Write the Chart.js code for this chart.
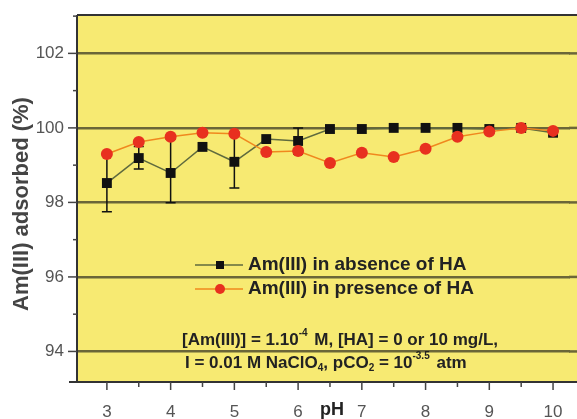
<!DOCTYPE html>
<html><head><meta charset="utf-8">
<script src="https://cdn.jsdelivr.net/npm/chart.js@4/dist/chart.umd.min.js"></script>
<style>html,body{margin:0;padding:0;background:#fff;overflow:hidden}</style>
</head><body>
<canvas id="c" width="577" height="419"></canvas>
<script>
const phValues   = [3, 3.5, 4, 4.5, 5, 5.5, 6, 6.5, 7, 7.5, 8, 8.5, 9, 9.5, 10];
const absenceHA  = [98.52, 99.19, 98.79, 99.49, 99.09, 99.70, 99.65, 99.97, 99.97, 100.0, 100.0, 100.0, 99.97, 100.0, 99.87];
const presenceHA = [99.30, 99.62, 99.76, 99.87, 99.84, 99.35, 99.38, 99.06, 99.33, 99.22, 99.44, 99.76, 99.90, 100.0, 99.92];
const errLow     = [97.75, 98.90, 97.99, null, 98.39, null, 99.30, null, null, null, null, null, null, null, null];
const errHigh    = [99.30, 99.50, 99.70, null, 99.87, null, 100.0, null, null, null, null, null, null, null, null];
const yTickValues = [94, 96, 98, 100, 102];
const xTickValues = [3, 4, 5, 6, 7, 8, 9, 10];
const seriesNames = ['Am(III) in absence of HA', 'Am(III) in presence of HA'];

const FONT = '"Liberation Sans", Arial, sans-serif';
const YELLOW = '#f7ea72';
const GRID = '#6b6638';
const BLACK_LINE = '#5f6a3e';
const RED_LINE = '#f0881e';
const RED = '#e8301f';

function drawRuns(ctx, x, y, runs) {
  for (const r of runs) {
    ctx.font = r.sup || r.sub ? 'bold 10px ' + FONT : 'bold 17px ' + FONT;
    const dy = r.sup ? -7 : (r.sub ? 5 : 0);
    ctx.fillText(r.t, x, y + dy);
    x += ctx.measureText(r.t).width + (r.sup ? 2 : 0);
  }
}
function noPad(s) { s.paddingTop = 0; s.paddingBottom = 0; s.paddingLeft = 0; s.paddingRight = 0; }

const deco = {
  id: 'deco',
  beforeDraw(chart) {
    const {ctx, chartArea: a} = chart;
    ctx.save();
    ctx.fillStyle = '#fff';
    ctx.fillRect(0, 0, chart.width, chart.height);
    ctx.fillStyle = YELLOW;
    ctx.fillRect(a.left, a.top, chart.width - a.left, a.bottom - a.top);
    ctx.restore();
  },
  beforeDatasetsDraw(chart) {
    const {ctx, chartArea: a} = chart;
    const xs = chart.scales.x, ys = chart.scales.y;
    ctx.save();
    // extend grid lines to the right edge of the canvas
    ctx.strokeStyle = GRID;
    ctx.lineWidth = 2.5;
    yTickValues.forEach(v => {
      const y = ys.getPixelForValue(v);
      ctx.beginPath(); ctx.moveTo(a.right - 1, y); ctx.lineTo(chart.width, y); ctx.stroke();
    });
    ctx.strokeStyle = '#111';
    ctx.lineWidth = 1.5;
    phValues.forEach((p, i) => {
      if (errLow[i] == null) return;
      const x = xs.getPixelForValue(p);
      const y1 = ys.getPixelForValue(errLow[i]);
      const y2 = ys.getPixelForValue(errHigh[i]);
      ctx.beginPath();
      ctx.moveTo(x, y1); ctx.lineTo(x, y2);
      ctx.moveTo(x - 5, y1); ctx.lineTo(x + 5, y1);
      ctx.moveTo(x - 5, y2); ctx.lineTo(x + 5, y2);
      ctx.stroke();
    });
    ctx.restore();
  },
  afterDraw(chart) {
    const {ctx, chartArea: a} = chart;
    const xs = chart.scales.x, ys = chart.scales.y;
    const right = chart.width;
    ctx.save();
    // frame
    ctx.strokeStyle = '#333';
    ctx.lineWidth = 2;
    ctx.beginPath();
    ctx.moveTo(a.left, a.top); ctx.lineTo(right, a.top);
    ctx.moveTo(a.left, a.top); ctx.lineTo(a.left, a.bottom);
    ctx.moveTo(a.left - 8, a.bottom); ctx.lineTo(right, a.bottom);
    ctx.stroke();
    // y tick marks
    ctx.lineWidth = 1.5;
    ctx.strokeStyle = '#444';
    for (let v = 93; v <= 103; v++) {
      const y = ys.getPixelForValue(v);
      if (y < a.top || y > a.bottom) continue;
      const len = v % 2 === 0 ? 9 : 4;
      ctx.beginPath(); ctx.moveTo(a.left - len, y); ctx.lineTo(a.left, y); ctx.stroke();
    }
    // x tick marks
    for (let v = 3; v <= 10.01; v += 0.5) {
      const x = xs.getPixelForValue(v);
      const len = Number.isInteger(v) ? 8 : 5;
      ctx.beginPath(); ctx.moveTo(x, a.bottom); ctx.lineTo(x, a.bottom + len); ctx.stroke();
    }
    // axis titles
    ctx.fillStyle = '#222';
    ctx.font = 'bold 18px ' + FONT;
    ctx.textAlign = 'center';
    ctx.textBaseline = 'middle';
    ctx.fillText('pH', xs.getPixelForValue(6.5) + 2, 410);
    ctx.save();
    ctx.translate(22, 204);
    ctx.rotate(-Math.PI / 2);
    ctx.fillStyle = '#444';
    ctx.font = 'bold 22px ' + FONT;
    ctx.fillText('Am(III) adsorbed (%)', 0, 0);
    ctx.restore();
    // legend
    const legendItems = [
      {y: 265, line: BLACK_LINE, fill: '#111', shape: 'rect'},
      {y: 289, line: RED_LINE, fill: RED, shape: 'circle'}
    ];
    legendItems.forEach((it, i) => {
      ctx.strokeStyle = it.line;
      ctx.lineWidth = 1.5;
      ctx.beginPath(); ctx.moveTo(195, it.y); ctx.lineTo(243, it.y); ctx.stroke();
      ctx.fillStyle = it.fill;
      if (it.shape === 'rect') ctx.fillRect(216, it.y - 4, 8, 8);
      else { ctx.beginPath(); ctx.arc(220, it.y, 5, 0, Math.PI * 2); ctx.fill(); }
      ctx.fillStyle = '#222';
      ctx.font = 'bold 19px ' + FONT;
      ctx.textAlign = 'left';
      ctx.textBaseline = 'middle';
      ctx.fillText(seriesNames[i], 248, it.y);
    });
    // annotation
    ctx.fillStyle = '#222';
    ctx.textAlign = 'left';
    ctx.textBaseline = 'middle';
    drawRuns(ctx, 182, 340, [{t: '[Am(III)] = 1.10'}, {t: '-4', sup: true}, {t: ' M, [HA] = 0 or 10 mg/L,'}]);
    drawRuns(ctx, 185, 363, [{t: 'I = 0.01 M NaClO'}, {t: '4', sub: true}, {t: ', pCO'}, {t: '2', sub: true}, {t: ' = 10'}, {t: '-3.5', sup: true}, {t: ' atm'}]);
    ctx.restore();
  }
};

new Chart(document.getElementById('c'), {
  type: 'line',
  data: {
    datasets: [
      {
        label: seriesNames[0],
        data: phValues.map((p, i) => ({x: p, y: absenceHA[i]})),
        borderColor: BLACK_LINE, borderWidth: 1.5,
        pointStyle: 'rect', pointRadius: 7, pointBackgroundColor: '#111', pointBorderColor: '#111', pointBorderWidth: 0,
        order: 1
      },
      {
        label: seriesNames[1],
        data: phValues.map((p, i) => ({x: p, y: presenceHA[i]})),
        borderColor: RED_LINE, borderWidth: 1.5,
        pointStyle: 'circle', pointRadius: 6, pointBackgroundColor: RED, pointBorderColor: RED, pointBorderWidth: 0,
        order: 0
      }
    ]
  },
  options: {
    responsive: false, animation: false, devicePixelRatio: 1,
    layout: {padding: {top: 15, right: 0, left: 0, bottom: 0}},
    plugins: {legend: {display: false}, tooltip: {enabled: false}},
    scales: {
      x: {
        type: 'linear', min: 2.531, max: 10.266,
        afterBuildTicks: s => { s.ticks = xTickValues.map(v => ({value: v})); },
        afterFit: s => { s.height = 37; noPad(s); },
        grid: {display: false, drawTicks: false},
        border: {display: false},
        ticks: {padding: 20, color: '#555', font: {family: FONT, size: 17}, maxRotation: 0, autoSkip: false}
      },
      y: {
        type: 'linear', min: 93.18, max: 103.03,
        afterBuildTicks: s => { s.ticks = yTickValues.map(v => ({value: v})); },
        afterFit: s => { s.width = 77; noPad(s); },
        grid: {drawTicks: false, color: GRID, lineWidth: 2.5},
        border: {display: false},
        ticks: {padding: 13, color: '#555', font: {family: FONT, size: 17}, autoSkip: false}
      }
    }
  },
  plugins: [deco]
});
</script>
</body></html>
